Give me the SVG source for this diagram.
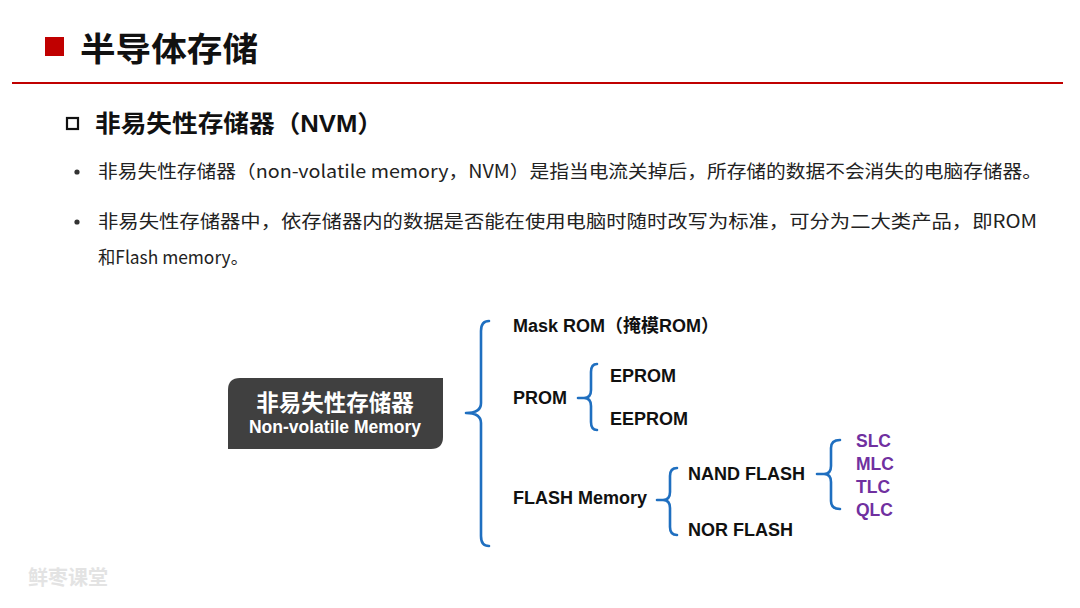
<svg xmlns="http://www.w3.org/2000/svg" width="1080" height="608" viewBox="0 0 1080 608">
<style>
.cjk{font-family:"Liberation Sans","Noto Sans CJK SC",sans-serif}
.b{font-weight:bold}
.lbl{font-family:"Liberation Sans","Noto Sans CJK SC",sans-serif;font-weight:bold;font-size:18px;fill:#111}
.pur{font-family:"Liberation Sans",sans-serif;font-weight:bold;font-size:17.5px;fill:#7030a0}
.brace{fill:none;stroke:#1f6fc0;stroke-width:2.6;stroke-linecap:round;stroke-linejoin:round}
.body{font-family:"Noto Sans CJK SC",sans-serif;font-size:18px;fill:#222}
.dot{fill:#333}
</style>
<rect width="1080" height="608" fill="#fff"/>
<g id="header">
<rect x="45" y="37" width="19" height="19" fill="#c00000"/>
<text x="80" y="61" class="cjk b" font-size="33" fill="#111" textLength="178" lengthAdjust="spacingAndGlyphs">半导体存储</text>
<line x1="12" y1="83" x2="1063" y2="83" stroke="#c00000" stroke-width="2"/>
</g>
<g id="subtitle">
<rect x="67" y="118" width="11" height="11" fill="none" stroke="#111" stroke-width="2.2"/>
<text x="95" y="132" class="cjk b" font-size="24" fill="#111" textLength="288" lengthAdjust="spacingAndGlyphs">非易失性存储器（NVM）</text>
</g>
<g id="bullets">
<circle cx="77" cy="172" r="2.6" class="dot"/>
<text x="98" y="178" class="body" textLength="944" lengthAdjust="spacingAndGlyphs">非易失性存储器（non-volatile memory，NVM）是指当电流关掉后，所存储的数据不会消失的电脑存储器。</text>
<circle cx="77" cy="222" r="2.6" class="dot"/>
<text x="98" y="228" class="body" textLength="939" lengthAdjust="spacingAndGlyphs">非易失性存储器中，依存储器内的数据是否能在使用电脑时随时改写为标准，可分为二大类产品，即ROM</text>
<text x="98" y="264" class="body" textLength="150" lengthAdjust="spacingAndGlyphs">和Flash memory。</text>
</g>
<g id="root">
<path d="M240 378 H443 V437 Q443 449 431 449 H228 V390 Q228 378 240 378 Z" fill="#404040"/>
<text x="335" y="411" class="cjk b" font-size="22.5" fill="#fff" text-anchor="middle">非易失性存储器</text>
<text x="335" y="433" class="cjk b" font-size="17.5" fill="#fff" text-anchor="middle">Non-volatile Memory</text>
</g>
<g id="connectors">
<path class="brace" d="M489 321 Q481 321 481 331 V403 Q481 413 466 413 Q481 413 481 423 V536 Q481 546 489 546"/>
<path class="brace" d="M578 398 H588 M597 364 Q591 364 591 372 V390 Q591 398 584 398 Q591 398 591 406 V422 Q591 430 597 430"/>
<path class="brace" d="M657 500 H667 M677 468 Q670 468 670 476 V492 Q670 500 663 500 Q670 500 670 508 V527 Q670 535 677 535"/>
<path class="brace" d="M817 474 H828 M840 440 Q831 440 831 448 V466 Q831 474 824 474 Q831 474 831 482 V501 Q831 509 840 509"/>
</g>
<g id="mask-rom"><text x="513" y="332" class="lbl">Mask ROM（掩模ROM）</text></g>
<g id="prom"><text x="513" y="404" class="lbl">PROM</text></g>
<g id="eprom"><text x="610" y="382" class="lbl">EPROM</text></g>
<g id="eeprom"><text x="610" y="425" class="lbl">EEPROM</text></g>
<g id="flash"><text x="513" y="504" class="lbl">FLASH Memory</text></g>
<g id="nand"><text x="688" y="480" class="lbl">NAND FLASH</text></g>
<g id="nor"><text x="688" y="536" class="lbl">NOR FLASH</text></g>
<g id="slc"><text x="856" y="447" class="pur">SLC</text></g>
<g id="mlc"><text x="856" y="470" class="pur">MLC</text></g>
<g id="tlc"><text x="856" y="493" class="pur">TLC</text></g>
<g id="qlc"><text x="856" y="516" class="pur">QLC</text></g>
<text x="28" y="585" font-family="Noto Sans CJK SC,sans-serif" font-weight="bold" font-size="20" fill="#e3e3e3">鲜枣课堂</text>
</svg>
